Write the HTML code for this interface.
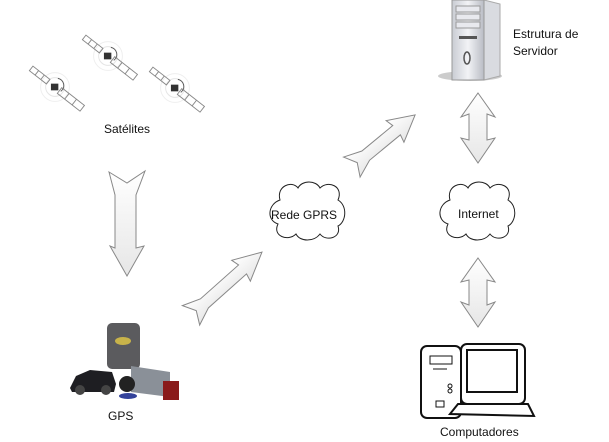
<!DOCTYPE html>
<html><head><meta charset="utf-8"><style>
html,body{margin:0;padding:0;background:#fff;width:609px;height:442px;overflow:hidden}
text{font-family:"Liberation Sans",Arial,sans-serif;font-size:12px;fill:#111}
</style></head><body>
<svg width="609" height="442" viewBox="0 0 609 442" xmlns="http://www.w3.org/2000/svg">
<defs>
<linearGradient id="ag" x1="0" y1="0" x2="0" y2="1"><stop offset="0" stop-color="#fff"/><stop offset="1" stop-color="#e6e6e6"/></linearGradient>
<linearGradient id="sv" x1="0" y1="0" x2="1" y2="0"><stop offset="0" stop-color="#c9ccd3"/><stop offset=".5" stop-color="#f2f3f6"/><stop offset="1" stop-color="#b9bcc4"/></linearGradient>
<g id="sat" fill="none" stroke="#888" stroke-width="1.3" transform="scale(0.72)">
<circle cx="0" cy="0" r="20" stroke="#eee"/><circle cx="0" cy="0" r="13" stroke="#e4e4e4"/>
<g transform="rotate(38)"><rect x="-42" y="-4" width="30" height="8"/><line x1="-32" y1="-4" x2="-32" y2="4"/><line x1="-22" y1="-4" x2="-22" y2="4"/><rect x="8" y="-5" width="40" height="10"/><line x1="21" y1="-5" x2="21" y2="5"/><line x1="34" y1="-5" x2="34" y2="5"/></g>
<rect x="-5" y="-4" width="9" height="8" fill="#333" stroke="#333"/>
<path d="M4 -12 A10 10 0 0 1 8 6" stroke="#555"/>
</g>
</defs>

<!-- satellites -->
<g transform="translate(55,87)"><use href="#sat"/></g>
<g transform="translate(108,56)"><use href="#sat"/></g>
<g transform="translate(175,88)"><use href="#sat"/></g>
<text x="104" y="133">Satélites</text>

<!-- down arrow -->
<path d="M109 172 L127 183 L145 171 L136 195 L136 248 L144 246 L127 276 L110 246 L115 248 L115 195 Z" fill="url(#ag)" stroke="#888" stroke-width="1"/>

<!-- diagonal arrows -->
<g transform="translate(197,310) rotate(-41.7)" fill="url(#ag)" stroke="#888">
<path d="M-8,-13 L10,-6 L61,-6 L59,-14 L87,0 L59,14 L61,6 L10,6 L-8,13 L-1,0 Z"/>
</g>
<g transform="translate(358,162) rotate(-39.5)" fill="url(#ag)" stroke="#888">
<path d="M-8,-13 L10,-6 L50,-6 L48,-14 L74,0 L48,14 L50,6 L10,6 L-8,13 L-1,0 Z"/>
</g>

<!-- vertical double arrows -->
<path d="M478 93 L495 117 L487 114 L487 140 L495 138 L478 163 L461 138 L469 140 L469 114 L461 117 Z" fill="url(#ag)" stroke="#888"/>
<path d="M478 258 L495 282 L487 280 L487 305 L495 302 L478 327 L461 302 L469 305 L469 280 L461 282 Z" fill="url(#ag)" stroke="#888"/>

<!-- clouds -->
<path d="M280 200 C276 186 292 180 298 188 C302 180 316 180 320 188 C328 180 344 186 338 200 C348 206 346 222 338 226 C342 238 326 242 320 234 C314 242 300 242 296 234 C288 242 272 236 278 224 C266 220 268 204 280 200 Z" fill="#fff" stroke="#222" stroke-width="1"/>
<text x="271" y="219">Rede GPRS</text>
<path d="M450 200 C446 186 462 180 468 188 C472 180 486 180 490 188 C498 180 514 186 508 200 C518 206 516 222 508 226 C512 238 496 242 490 234 C484 242 470 242 466 234 C458 242 442 236 448 224 C436 220 438 204 450 200 Z" fill="#fff" stroke="#222" stroke-width="1"/>
<text x="458" y="218">Internet</text>

<!-- server -->
<ellipse cx="470" cy="76" rx="32" ry="5" fill="#ccc"/>
<polygon points="484,0 500,4 500,76 484,80" fill="#d9dbe0" stroke="#aaa"/>
<rect x="452" y="0" width="32" height="80" fill="url(#sv)" stroke="#999"/>
<rect x="456" y="6" width="24" height="6" fill="#e8e9ee" stroke="#999"/>
<rect x="456" y="14" width="24" height="6" fill="#e8e9ee" stroke="#999"/>
<rect x="456" y="22" width="24" height="6" fill="#e8e9ee" stroke="#999"/>
<rect x="459" y="36" width="18" height="3" fill="#555"/>
<ellipse cx="467" cy="58" rx="3" ry="6" fill="none" stroke="#555" stroke-width="1.5"/>
<text x="513" y="38">Estrutura de</text>
<text x="513" y="55">Servidor</text>

<!-- GPS group -->
<rect x="107" y="323" width="33" height="46" rx="5" fill="#5b5b5e"/>
<ellipse cx="123" cy="341" rx="8" ry="4" fill="#c8b34a"/>
<path d="M70 388 L76 376 L90 370 L112 372 L116 384 L114 392 L72 392 Z" fill="#1e1e22"/>
<circle cx="80" cy="390" r="5" fill="#444"/><circle cx="106" cy="390" r="5" fill="#444"/>
<polygon points="131,366 170,372 170,397 131,392" fill="#8a9098"/>
<rect x="163" y="381" width="16" height="19" fill="#8a1a1a"/>
<circle cx="127" cy="384" r="8" fill="#222"/>
<ellipse cx="128" cy="396" rx="9" ry="3" fill="#33429a"/>
<text x="108" y="420">GPS</text>

<!-- computers -->
<g fill="#fff" stroke="#111" stroke-width="2">
<rect x="421" y="346" width="40" height="72" rx="6"/>
<rect x="461" y="344" width="64" height="60" rx="6"/>
<rect x="467" y="350" width="50" height="42"/>
<path d="M450 414 L458 404 L528 404 L534 416 Z"/>
</g>
<rect x="430" y="356" width="22" height="8" fill="none" stroke="#111"/>
<line x1="433" y1="369" x2="447" y2="369" stroke="#111"/>
<circle cx="450" cy="386" r="2" fill="none" stroke="#111"/><circle cx="450" cy="391" r="2" fill="none" stroke="#111"/>
<rect x="436" y="401" width="8" height="6" fill="none" stroke="#111"/>
<text x="440" y="436">Computadores</text>
</svg>
</body></html>
